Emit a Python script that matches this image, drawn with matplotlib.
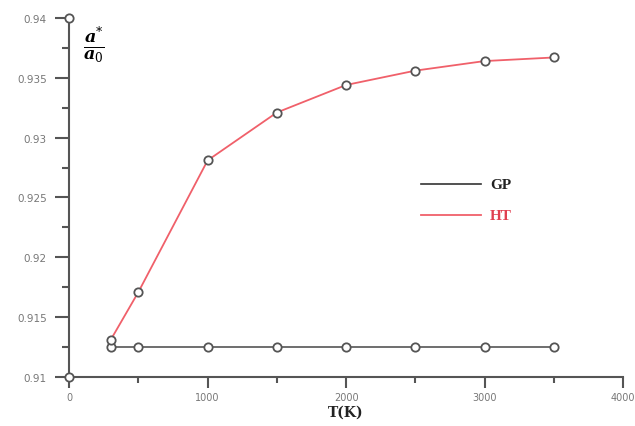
import matplotlib
matplotlib.use("Agg")
import matplotlib.pyplot as plt
from matplotlib.ticker import MultipleLocator
from matplotlib.lines import Line2D

plt.rcParams['mathtext.fontset'] = 'dejavuserif'

T = [300, 500, 1000, 1500, 2000, 2500, 3000, 3500]
gp = [0.9125, 0.9125, 0.9125, 0.9125, 0.9125, 0.9125, 0.9125, 0.9125]
ht = [0.9131, 0.9171, 0.9281, 0.9321, 0.9344, 0.9356, 0.9364, 0.9367]
xticks = [0, 1000, 2000, 3000, 4000]
yticks = [0.91, 0.915, 0.92, 0.925, 0.93, 0.935, 0.94]
ytick_labels = ["0.91", "0.915", "0.92", "0.925", "0.93", "0.935", "0.94"]

fig = plt.figure(figsize=(6.35, 4.27), dpi=100)
ax = fig.add_axes([0.109, 0.115, 0.872, 0.8405])

mk = dict(marker='o', markersize=6, markerfacecolor='white', markeredgecolor='#555555', markeredgewidth=1.3)
ax.plot(T, gp, color='#555555', lw=1.2, **mk, zorder=3)
ax.plot(T, ht, color='#f0606a', lw=1.3, **mk, zorder=3)

ax.set_xlim(0, 4000)
ax.set_ylim(0.91, 0.94)
ax.spines['top'].set_visible(False)
ax.spines['right'].set_visible(False)
for s in ['left', 'bottom']:
    ax.spines[s].set_color('#555555')
    ax.spines[s].set_linewidth(1.5)

ax.set_xticks(xticks)
ax.set_yticks(yticks)
ax.set_yticklabels(ytick_labels)
ax.xaxis.set_minor_locator(MultipleLocator(500))
ax.yaxis.set_minor_locator(MultipleLocator(0.0025))
ax.tick_params(axis='y', which='major', direction='out', length=10, width=1.5, color='#555555', labelsize=7.5, labelcolor='#777777', pad=6)
ax.tick_params(axis='y', which='minor', direction='out', length=5, width=1.5, color='#555555')
ax.tick_params(axis='x', which='major', direction='out', length=8, width=1.5, color='#555555', labelsize=7, labelcolor='#777777', pad=3)
ax.tick_params(axis='x', which='minor', direction='out', length=4, width=1.5, color='#555555')

# axis end markers
ax.plot([0, 0], [0.91, 0.94], linestyle='none', clip_on=False, zorder=5, **mk)

ax.text(0.5, -0.098, 'T(K)', transform=ax.transAxes, fontfamily='DejaVu Serif', fontweight='bold',
        fontsize=10, ha='center', va='center', color='#222222')

ax.text(0.025, 0.985, r'$\frac{\boldsymbol{a}^{*}}{\boldsymbol{a}_{0}}$', transform=ax.transAxes,
        fontsize=18, va='top', ha='left')

# legend
ax.add_line(Line2D([2540, 2975], [0.9261, 0.9261], color='#333333', lw=1.2))
ax.add_line(Line2D([2540, 2975], [0.9235, 0.9235], color='#f0606a', lw=1.3))
ax.text(3040, 0.9261, 'GP', fontfamily='Liberation Serif', fontweight='bold', fontsize=11, color='#222222', va='center')
ax.text(3040, 0.9235, 'HT', fontfamily='Liberation Serif', fontweight='bold', fontsize=11, color='#e04050', va='center')

fig.savefig('out.png', dpi=100)
